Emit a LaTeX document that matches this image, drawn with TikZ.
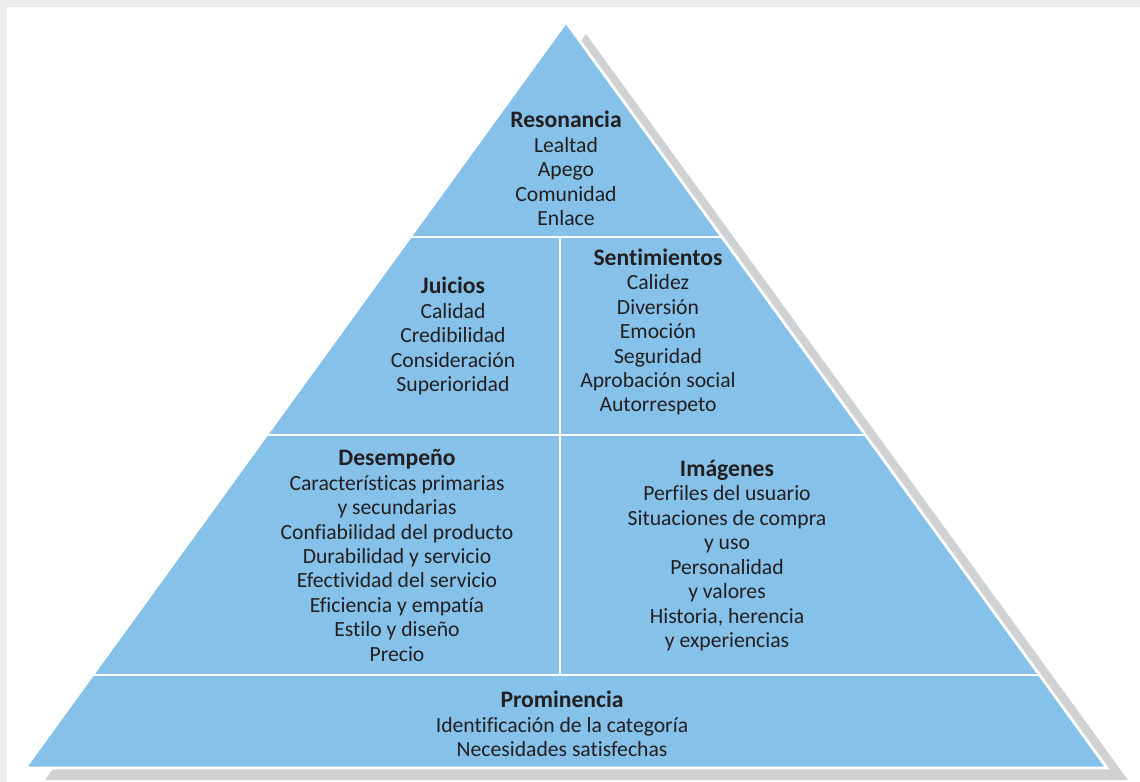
\documentclass[tikz,border=0pt]{standalone}
\usepackage{fontspec}
\setmainfont[Ligatures=NoCommon]{Carlito}
\usetikzlibrary{calc}
\definecolor{pyrblue}{RGB}{133,193,233}
\definecolor{shadowgray}{RGB}{208,209,211}
\definecolor{txtgray}{RGB}{35,31,32}
\definecolor{framegray}{RGB}{236,236,236}
\newcommand{\lvltitle}[1]{{\fontsize{16.8}{17.4}\selectfont\bfseries #1}}

\begin{document}
\begin{tikzpicture}[x=0.025cm,y=-0.025cm,
    level/.style={align=center,text=txtgray,inner sep=0pt,
      font=\fontsize{15.4}{17.4}\selectfont},
    divider/.style={white,line width=1.5pt}]
                \fill[framegray] (0,0) rectangle (1140,782);
                \fill[white] (7,7) rectangle (1140,782);
                \useasboundingbox (0,0) rectangle (1140,782);
                \coordinate (A) at (566,22);
                \coordinate (L) at (25,768);
                \coordinate (R) at (1107,768);
                % shadow behind the pyramid
                \fill[shadowgray] ($(A)+(20,12)$) -- ($(L)+(20,12)$) -- ($(R)+(21,12)$) -- cycle;
                \filldraw[fill=pyrblue,draw=white,line width=2pt] (A) -- (L) -- (R) -- cycle;
                % levels
                \draw[divider] ($(A)!0.2882!(L)$) -- ($(A)!0.2882!(R)$);
                \draw[divider] ($(A)!0.5536!(L)$) -- ($(A)!0.5536!(R)$);
                \draw[divider] ($(A)!0.8753!(L)$) -- ($(A)!0.8753!(R)$);
                \draw[divider] (560,237) -- (560,675);
                \node[level] (resonancia) at (566,168.5) {\lvltitle{Resonancia}\\Lealtad\\Apego\\Comunidad\\Enlace};
                \node[level] (juicios) at (453,336) {\lvltitle{Juicios}\\Calidad\\Credibilidad\\Consideración\\Superioridad};
                \node[level] (sentimientos) at (658,332) {\lvltitle{Sentimientos}\\Calidez\\Diversión\\Emoción\\Seguridad\\Aprobación social\\Autorrespeto};
                \node[level] (desempeno) at (397,555.5) {\lvltitle{Desempeño}\\Características primarias\\y secundarias\\Confiabilidad del producto\\Durabilidad y servicio\\Efectividad del servicio\\Eficiencia y empatía\\Estilo y diseño\\Precio};
                \node[level] (imagenes) at (727,555.5) {\lvltitle{Imágenes}\\Perfiles del usuario\\Situaciones de compra\\y uso\\Personalidad\\y valores\\Historia, herencia\\y experiencias};
                \node[level] (prominencia) at (562,724) {\lvltitle{Prominencia}\\Identificación de la categoría\\Necesidades satisfechas};
            \end{tikzpicture}
\end{document}
